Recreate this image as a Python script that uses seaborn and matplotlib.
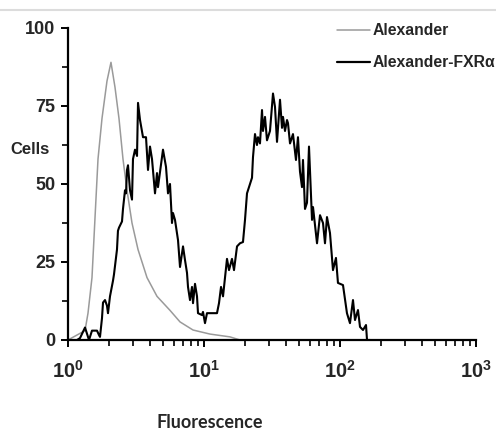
import numpy as np
import pandas as pd
import matplotlib
matplotlib.use('Agg')
import matplotlib.pyplot as plt
import matplotlib.ticker as mticker
from matplotlib.lines import Line2D
import seaborn as sb

# Values (fluorescence, cell count)
gray_x = [1.0, 1.165, 1.334, 1.403, 1.501, 1.579, 1.662, 1.778, 1.935, 2.070,
          2.216, 2.371, 2.537, 2.715, 2.955, 3.272, 3.810, 4.512, 5.623, 6.662,
          8.302, 11.07, 15.53, 18.39]
gray_y = [0, 1.6, 3, 8.6, 20, 39, 58, 71, 83, 89,
          81, 71, 58, 48, 37.5, 29, 20, 14, 9.5, 5.8,
          3.2, 1.9, 1, 0]

black_x = [1.165, 1.225, 1.334, 1.427, 1.501, 1.634, 1.690, 1.719, 1.778, 1.809,
           1.871, 1.935, 1.968, 2.036, 2.142, 2.178, 2.292, 2.330, 2.371, 2.495,
           2.537, 2.625, 2.670, 2.715, 2.762, 2.857, 2.955, 3.005, 3.110, 3.217,
           3.272, 3.385, 3.561, 3.746, 3.875, 4.008, 4.146, 4.362, 4.512, 4.589,
           4.994, 5.255, 5.436, 5.623, 5.817, 5.916, 6.119, 6.441, 6.662, 7.010,
           7.251, 7.500, 7.628, 7.890, 8.161, 8.302, 8.587, 8.882, 9.034, 9.665,
           9.83, 10.17, 10.52, 12.46, 12.89, 13.34, 13.80, 14.27, 14.76, 15.27,
           16.06, 16.62, 17.49, 18.39, 19.35, 20.02, 20.71, 21.79, 22.54, 22.92,
           23.71, 24.52, 24.94, 25.80, 26.70, 27.15, 28.09, 29.05, 30.56, 32.16,
           33.27, 34.42, 36.21, 37.46, 38.10, 39.41, 40.77, 41.46, 42.90, 45.11,
           47.45, 49.09, 50.78, 52.55, 53.44, 55.29, 57.19, 59.16, 62.26, 63.32,
           67.76, 71.29, 74.99, 77.56, 80.22, 84.39, 88.8, 93.4, 96.6, 105.2,
           112.5, 118.4, 124.6, 128.9, 135.6, 140.3, 147.6, 155.3, 158.0, 166.3]
black_y = [0, 0.6, 4, 0, 3, 3, 1.6, 1, 7, 12,
           12.8, 11, 8.6, 14, 19, 21, 29, 35, 36, 38,
           42, 48, 47, 54.5, 56, 48, 45, 58, 61, 59,
           76, 70.5, 65, 65, 54.5, 62, 58, 47, 53.5, 49,
           61, 55.5, 47, 50, 37.5, 40.7, 38.5, 32, 23.4, 30,
           25.6, 21.5, 17, 12.8, 17, 11.8, 18, 14, 8.6, 8,
           9, 5.4, 8.6, 8.6, 11.8, 17, 14, 20, 26, 22.4,
           26, 22.4, 30, 31, 31.4, 38.5, 47, 50, 52, 58.6,
           66, 62.5, 65, 63, 73.7, 67, 71.5, 64, 67, 79,
           74.7, 63.5, 77, 68, 71.5, 67, 70.5, 69.5, 63, 66,
           57.7, 65, 54, 49, 57.7, 42, 44, 62, 38.5, 42.6,
           31, 40, 37.5, 31, 39.4, 34.3, 22.4, 26.3, 18.3, 17.6,
           8.6, 5.4, 12.8, 6.4, 9.6, 4.2, 3.2, 4.8, 0, 0]

series_names = ['Alexander', 'Alexander-FXR\u03b1']
series_colors = ['#9a9a9a', '#000000']

y_ticks = [0, 25, 50, 75, 100]
x_ticks = [1, 10, 100, 1000]
x_tick_labels = [r'$\mathbf{10^{0}}$', r'$\mathbf{10^{1}}$', r'$\mathbf{10^{2}}$', r'$\mathbf{10^{3}}$']

df = pd.concat([
    pd.DataFrame({'Fluorescence': gray_x, 'Cells': gray_y, 'sample': series_names[0]}),
    pd.DataFrame({'Fluorescence': black_x, 'Cells': black_y, 'sample': series_names[1]}),
])

sb.set_style('white')
arial = ['Liberation Sans', 'DejaVu Sans']
plt.rcParams['font.family'] = arial
plt.rcParams['font.weight'] = 'bold'
plt.rcParams['mathtext.fontset'] = 'custom'
plt.rcParams['mathtext.bf'] = 'Liberation Sans:bold'
plt.rcParams['mathtext.rm'] = 'Liberation Sans:bold'

fig = plt.figure(figsize=(4.96, 4.37), dpi=100)
ax = fig.add_axes([68 / 496, 1 - 340 / 437, 408 / 496, 312 / 437])

sb.lineplot(data=df, x='Fluorescence', y='Cells', hue='sample', palette=series_colors,
            estimator=None, sort=False, ax=ax, legend=False)
lines = ax.get_lines()
lines[0].set_linewidth(1.1)
lines[1].set_linewidth(1.5)

ax.set_xscale('log')
ax.set_xlim(1, 1000)
ax.set_ylim(0, 100)
ax.set_xticks(x_ticks)
ax.set_xticklabels(x_tick_labels, fontsize=14.5)
ax.xaxis.set_minor_locator(mticker.LogLocator(base=10, subs=np.arange(2, 10)))
ax.xaxis.set_minor_formatter(mticker.NullFormatter())
ax.set_yticks(y_ticks)
ax.set_yticklabels([str(v) for v in y_ticks], fontsize=13, fontweight='bold')
ax.yaxis.set_minor_locator(mticker.MultipleLocator(12.5))
ax.tick_params(which='major', direction='out', length=5, width=1.4, color='black',
               bottom=True, left=True)
ax.tick_params(axis='x', which='major', pad=9)
ax.tick_params(axis='y', which='major', pad=4)
ax.tick_params(which='minor', direction='out', length=4, width=1.2, color='black',
               bottom=True, left=True)
ax.set_xlabel('')
ax.set_ylabel('')

sb.despine(ax=ax)
for side in ['left', 'bottom']:
    ax.spines[side].set_linewidth(1.6)
    ax.spines[side].set_color('black')

handles = [Line2D([], [], color=series_colors[0], lw=1.1),
           Line2D([], [], color=series_colors[1], lw=1.6)]
ax.legend(handles, series_names, loc='upper left', bbox_to_anchor=(337 / 496, 1 - 23 / 437),
          bbox_transform=fig.transFigure, frameon=False, handlelength=2.1,
          handletextpad=0.2, borderpad=0, borderaxespad=0, labelspacing=1.1,
          prop={'family': arial, 'weight': 'bold', 'size': 11.3})

fig.text(10 / 496, 1 - 150 / 437, 'Cells', fontsize=12, fontweight='bold', va='center', ha='left')
fig.text(210 / 496, 1 - 423 / 437, 'Fluorescence', fontsize=13, fontweight='bold',
         va='center', ha='center', family=['Lato', 'DejaVu Sans'])

# thin grey rule along the top of the panel
fig.add_artist(Line2D([0, 1], [1 - 10 / 437, 1 - 10 / 437], transform=fig.transFigure,
                      color='#dcdcdc', lw=1.5))

fig.savefig('out.png', dpi=100)
